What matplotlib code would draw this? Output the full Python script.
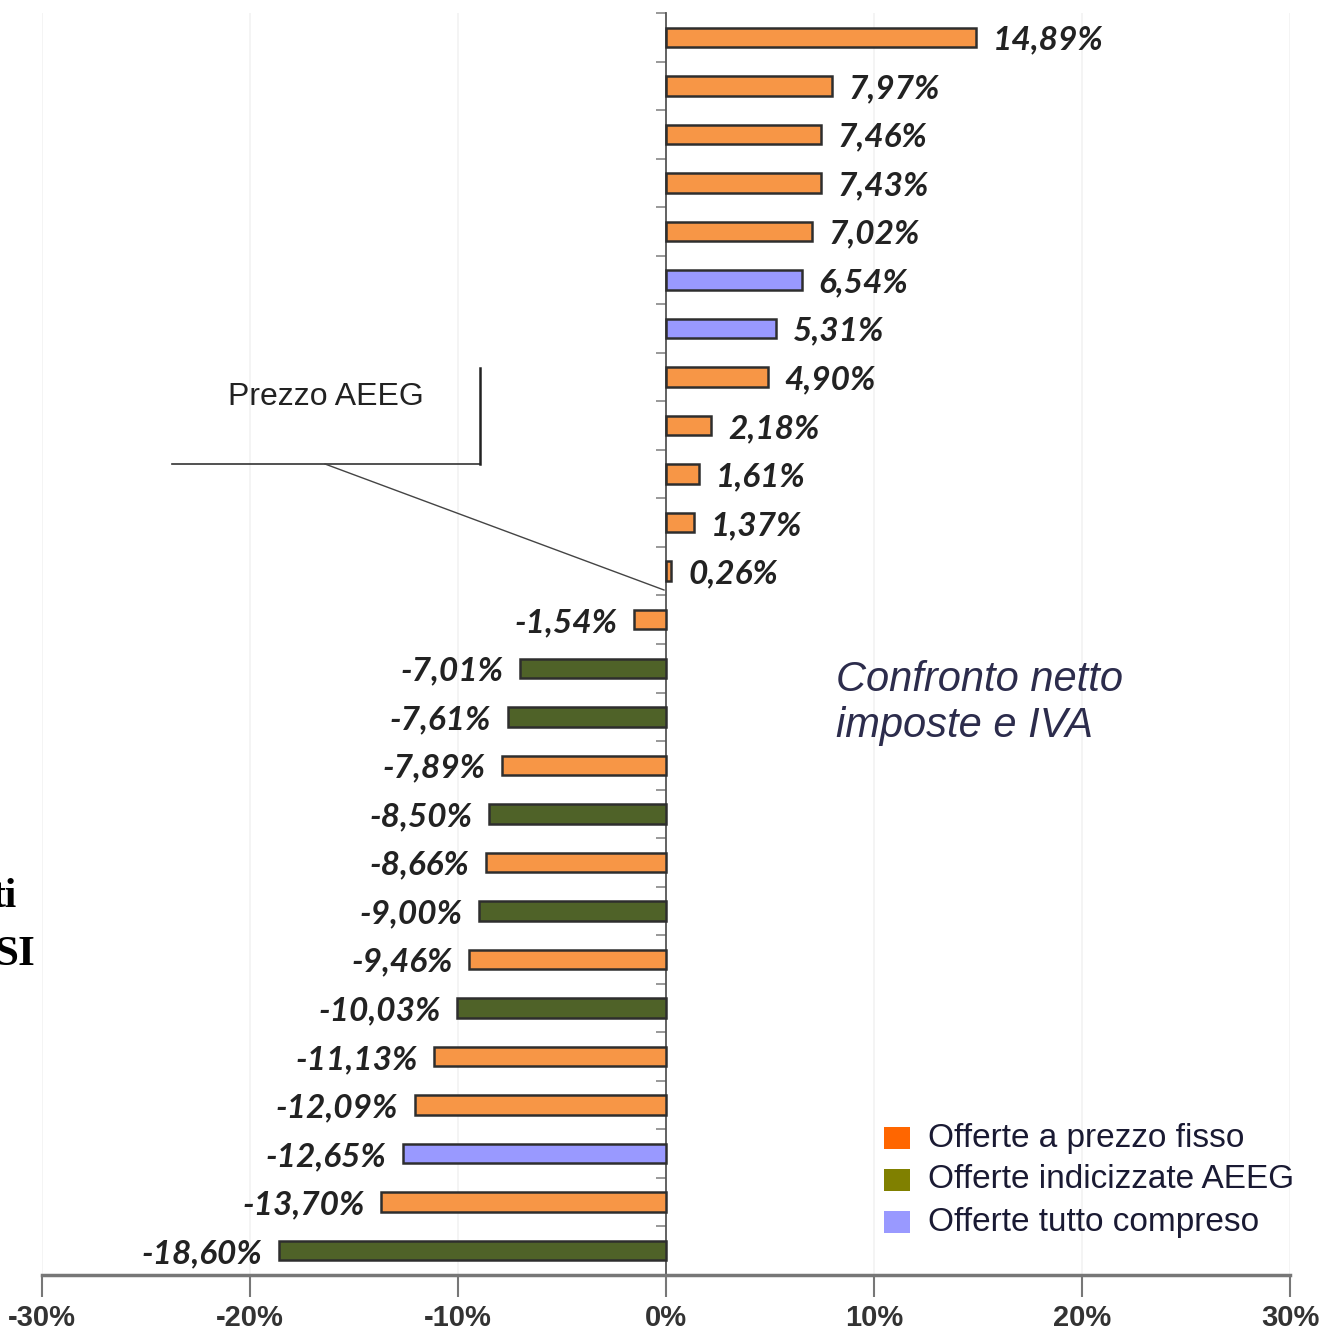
import matplotlib
matplotlib.use("Agg")
import matplotlib.pyplot as plt
from matplotlib.patches import Rectangle
from matplotlib.ticker import FixedLocator

values = [14.89, 7.97, 7.46, 7.43, 7.02, 6.54, 5.31, 4.90, 2.18, 1.61, 1.37, 0.26,
          -1.54, -7.01, -7.61, -7.89, -8.50, -8.66, -9.00, -9.46, -10.03, -11.13,
          -12.09, -12.65, -13.70, -18.60]
types = ["F", "F", "F", "F", "F", "T", "T", "F", "F", "F", "F", "F",
         "F", "I", "I", "F", "I", "F", "I", "F", "I", "F",
         "F", "T", "F", "I"]
legend_labels = ["Offerte a prezzo fisso", "Offerte indicizzate AEEG", "Offerte tutto compreso"]
xticks = [-30, -20, -10, 0, 10, 20, 30]
xtick_labels = ["-30%", "-20%", "-10%", "0%", "10%", "20%", "30%"]

bar_colors = {"F": "#F79646", "I": "#4F6228", "T": "#9999FF"}
legend_colors = ["#FF6600", "#808000", "#9999FF"]

W, H = 1320, 1333
fig = plt.figure(figsize=(W / 100, H / 100), dpi=100)
ax = fig.add_axes([42 / W, 1 - 1275 / H, (1290 - 42) / W, (1275 - 13) / H])

n = len(values)
ypos = list(range(n))
ax.barh(ypos, values, height=0.4,
        color=[bar_colors[t] for t in types],
        edgecolor="#2e2e2e", linewidth=1.8, zorder=3)
ax.set_ylim(n - 0.5, -0.5)
ax.set_xlim(-30, 30)

for y, v in zip(ypos, values):
    lab = f"{v:.2f}%".replace(".", ",")
    off = 12 if v >= 0 else -12
    ax.annotate(lab, (v, y), xytext=(off, -2), textcoords="offset points",
                ha="left" if v >= 0 else "right", va="center", fontsize=24,
                fontweight="bold", fontstyle="italic", family="Lato", color="#222222")

# axes styling
for s in ["top", "right"]:
    ax.spines[s].set_visible(False)
ax.spines["left"].set_position(("data", 0))
ax.spines["left"].set_color("#555555")
ax.spines["left"].set_linewidth(1.3)
ax.spines["bottom"].set_color("#777777")
ax.spines["bottom"].set_linewidth(2.5)

ax.set_xticks(xticks)
ax.set_xticklabels(xtick_labels)
for t in ax.get_xticklabels():
    t.set_fontfamily("Liberation Sans")
    t.set_fontweight("bold")
    t.set_fontsize(21)
    t.set_color("#333333")
ax.tick_params(axis="x", length=16, width=1.5, color="#777777", pad=5)
ax.yaxis.set_major_locator(FixedLocator([i + 0.5 for i in range(-1, n)]))
ax.set_yticklabels([])
ax.tick_params(axis="y", length=7, width=1.2, color="#888888", direction="out")

for xv in [-30, -20, -10, 10, 20, 30]:
    ax.axvline(xv, color="#f2f2f2", linewidth=1.2, zorder=0)

# callout "Prezzo AEEG"
fig.text(326 / W, 1 - 397 / H, "Prezzo AEEG", ha="center", va="center",
         fontsize=23, family="Liberation Sans", color="#222222")
fig.add_artist(plt.Line2D([172 / W, 480 / W], [1 - 464 / H, 1 - 464 / H],
                          color="#333333", linewidth=1.2))
fig.add_artist(plt.Line2D([480 / W, 480 / W], [1 - 368 / H, 1 - 464 / H],
                          color="#222222", linewidth=1.8))
fig.add_artist(plt.Line2D([325 / W, 664 / W], [1 - 464 / H, 1 - 590 / H],
                          color="#444444", linewidth=1.0))

# annotation text
fig.text(836 / W, 1 - 703 / H, "Confronto netto\nimposte e IVA", ha="left", va="center",
         fontsize=30, fontstyle="italic", family="Liberation Sans", color="#2c2c4c",
         linespacing=1.2)

# clipped slide fragments on the left
fig.text(17 / W, 1 - 897 / H, "ti", ha="right", va="center", fontsize=30,
         fontweight="bold", family="Liberation Serif", color="black")
fig.text(36 / W, 1 - 955 / H, "SI", ha="right", va="center", fontsize=31,
         fontweight="bold", family="Liberation Serif", color="black")

# legend
for i, (lab, c) in enumerate(zip(legend_labels, legend_colors)):
    yc = 1138 + 42 * i
    fig.add_artist(Rectangle((884 / W, 1 - (yc + 11) / H), 26 / W, 22 / H,
                             transform=fig.transFigure, facecolor=c, edgecolor="none"))
    fig.text(928 / W, 1 - yc / H, lab, ha="left", va="center", fontsize=24,
             family="Liberation Sans", color="#1a1a33")

fig.savefig("out.png", dpi=100, facecolor="white")
